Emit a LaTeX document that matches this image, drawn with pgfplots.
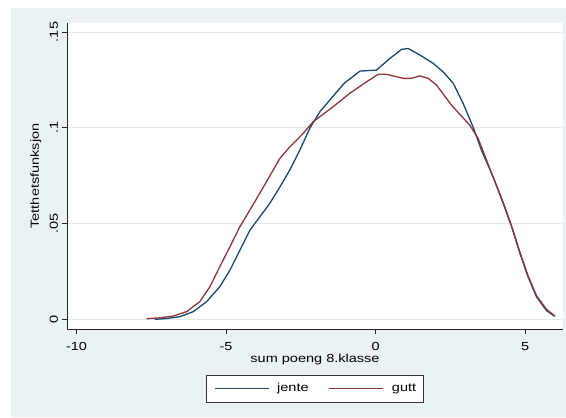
\documentclass[border=0pt]{standalone}
\usepackage{fontspec}
\setmainfont{Liberation Sans}[FakeStretch=1.24]
\usepackage{pgfplots}
\pgfplotsset{compat=1.18}
\definecolor{stbg}{RGB}{234,242,243}
\definecolor{stgrid}{RGB}{224,233,235}
\definecolor{stnavy}{RGB}{26,71,111}
\definecolor{stmaroon}{RGB}{144,53,59}
\begin{document}
\begin{tikzpicture}[x=1bp,y=1bp,font=\fontsize{11.7bp}{14bp}\selectfont]
\useasboundingbox (-67,-88) rectangle (499,329);
\fill[white] (-67,-88) rectangle (499,329);
\fill[stbg] (-56,-88) rectangle (499,321);
\begin{axis}[
  at={(0,0)}, anchor=south west,
  scale only axis, width=496bp, height=306bp,
  xmin=-10.32, xmax=6.27, ymin=-0.00506, ymax=0.1547,
  axis background/.style={fill=white},
  axis x line*=bottom, axis y line*=left,
  axis line style={-, black!85, line width=0.8bp},
  xtick={-10,-5,0,5}, xticklabels={-10,-5,0,5},
  ytick={0,0.05,0.1,0.15}, yticklabels={0,.05,.1,.15},
  ymajorgrids, grid style={stgrid, line width=0.8bp},
  tick align=outside, major tick length=5bp,
  tick style={black!85, line width=0.8bp},
  yticklabel style={xshift=-4bp, rotate=90, anchor=base, inner sep=0pt},
  xticklabel style={anchor=base, inner sep=0pt, yshift=-16bp},
  every axis y label/.style={at={(axis description cs:-0.0565,0.5)}, rotate=90, anchor=base, inner sep=0pt},
  every axis x label/.style={at={(axis description cs:0.5,-0.110)}, anchor=base, inner sep=0pt},
  ylabel={Tetthetsfunksjon},
  xlabel={sum poeng 8.klasse},
  legend style={at={(axis description cs:0.5,-0.149)}, anchor=north,
    legend columns=2, draw=black!80, line width=0.8bp, fill=white,
    inner xsep=7bp, inner ysep=8.5bp, nodes={inner sep=0pt},
    /tikz/every odd column/.append style={column sep=8bp},
    /tikz/every even column/.append style={column sep=20bp}},
  legend image code/.code={\draw[#1] (0bp,0bp) -- (54bp,0bp);},
]
\addplot[color=stnavy, draw=stnavy, line width=1.3bp, line join=round] coordinates {
(-7.38,0.0000) (-7.0,0.0004) (-6.54,0.0014) (-6.10,0.0040) (-5.65,0.0092)
(-5.21,0.0170) (-4.87,0.0257) (-4.54,0.0360) (-4.20,0.0466) (-3.87,0.0535)
(-3.54,0.0605) (-3.26,0.0675) (-2.87,0.0779) (-2.53,0.0884) (-2.20,0.0997)
(-1.86,0.1084) (-1.53,0.1145) (-1.03,0.1235) (-0.52,0.1296) (0.03,0.1301)
(0.48,0.1362) (0.87,0.1409) (1.09,0.1414) (1.48,0.1380) (1.93,0.1336)
(2.26,0.1292) (2.60,0.1232) (2.93,0.1127) (3.26,0.1005) (3.54,0.0884)
(3.93,0.0744) (4.27,0.0605) (4.55,0.0483) (4.83,0.0344) (5.10,0.0222)
(5.38,0.0118) (5.72,0.0045) (6.00,0.0015)
};
\addlegendentry{jente}
\addplot[color=stmaroon, draw=stmaroon, line width=1.3bp, line join=round] coordinates {
(-7.66,0.0003) (-7.2,0.0008) (-6.77,0.0017) (-6.32,0.0040) (-5.88,0.0092)
(-5.54,0.0170) (-5.21,0.0275) (-4.87,0.0379) (-4.54,0.0483) (-4.09,0.0600)
(-3.65,0.0718) (-3.20,0.0840) (-2.87,0.0900) (-2.47,0.0962) (-2.09,0.1031)
(-1.42,0.1110) (-0.86,0.1180) (-0.30,0.1240) (0.09,0.1279) (0.37,0.1279)
(0.92,0.1258) (1.20,0.1258) (1.48,0.1271) (1.76,0.1258) (2.04,0.1223)
(2.54,0.1118) (3.15,0.1014) (3.43,0.0945) (3.82,0.0788) (4.27,0.0610)
(4.55,0.0488) (4.83,0.0350) (5.10,0.0228) (5.38,0.0124) (5.72,0.0052)
(6.00,0.0017)
};
\addlegendentry{gutt}
\end{axis}
\end{tikzpicture}
\end{document}
